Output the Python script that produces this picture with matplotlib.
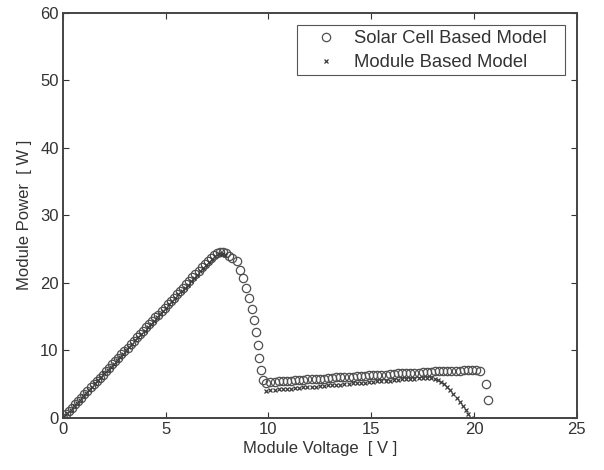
import matplotlib.pyplot as plt
from matplotlib.patches import Rectangle

plt.rcParams['font.family'] = ['Liberation Sans', 'DejaVu Sans']

# Solar cell based model (circles)
cell_v = [0.00, 0.15, 0.30, 0.45, 0.60, 0.75, 0.90, 1.05, 1.20, 1.35, 1.50, 1.65,
          1.80, 1.95, 2.10, 2.25, 2.40, 2.55, 2.70, 2.85, 3.00, 3.15, 3.30, 3.45,
          3.60, 3.75, 3.90, 4.05, 4.20, 4.35, 4.50, 4.65, 4.80, 4.95, 5.10, 5.25,
          5.40, 5.55, 5.70, 5.85, 6.00, 6.15, 6.30, 6.45, 6.60, 6.75, 6.90, 7.05,
          7.20, 7.35, 7.50, 7.65, 7.80, 7.95, 8.10, 8.25,
          8.45, 8.60, 8.77, 8.93, 9.07, 9.18, 9.29, 9.39, 9.47, 9.54, 9.62, 9.72,
          9.90, 10.1, 10.3, 10.5, 10.7, 10.9, 11.1, 11.3, 11.5, 11.7, 11.9, 12.1,
          12.3, 12.5, 12.7, 12.9, 13.1, 13.3, 13.5, 13.7, 13.9, 14.1, 14.3, 14.5,
          14.7, 14.9, 15.1, 15.3, 15.5, 15.7, 15.9, 16.1, 16.3, 16.5, 16.7, 16.9,
          17.1, 17.3, 17.5, 17.7, 17.9, 18.1, 18.3, 18.5, 18.7, 18.9, 19.1, 19.3,
          19.5, 19.7, 19.9, 20.1, 20.3, 20.56, 20.70]
cell_p = [0.0, 0.5, 1.0, 1.5, 2.0, 2.5, 3.0, 3.5, 4.0, 4.5, 5.0, 5.4,
          5.9, 6.4, 6.9, 7.4, 7.9, 8.4, 8.9, 9.4, 9.9, 10.4, 10.9, 11.4,
          11.9, 12.4, 12.9, 13.4, 13.9, 14.4, 14.9, 15.3, 15.8, 16.3, 16.8, 17.3,
          17.8, 18.3, 18.8, 19.3, 19.8, 20.3, 20.8, 21.3, 21.8, 22.3, 22.8, 23.2,
          23.7, 24.1, 24.4, 24.6, 24.6, 24.4, 24.0, 23.6,
          23.2, 21.9, 20.7, 19.2, 17.7, 16.1, 14.5, 12.7, 10.8, 8.9, 7.1, 5.6,
          5.2, 5.3, 5.3, 5.4, 5.4, 5.5, 5.5, 5.6, 5.6, 5.6, 5.7, 5.7,
          5.8, 5.8, 5.8, 5.9, 5.9, 6.0, 6.0, 6.0, 6.1, 6.1, 6.2, 6.2,
          6.2, 6.3, 6.3, 6.4, 6.4, 6.4, 6.5, 6.5, 6.6, 6.6, 6.6, 6.7,
          6.7, 6.7, 6.8, 6.8, 6.8, 6.9, 6.9, 6.9, 7.0, 7.0, 7.0, 7.0,
          7.1, 7.1, 7.1, 7.1, 7.0, 5.0, 2.7]

# Module based model (crosses)
mod_v = [0.075, 0.225, 0.375, 0.525, 0.675, 0.825, 0.975, 1.125, 1.275, 1.425,
         1.575, 1.725, 1.875, 2.025, 2.175, 2.325, 2.475, 2.625, 2.775, 2.925,
         3.075, 3.225, 3.375, 3.525, 3.675, 3.825, 3.975, 4.125, 4.275, 4.425,
         4.575, 4.725, 4.875, 5.025, 5.175, 5.325, 5.475, 5.625, 5.775, 5.925,
         6.075, 6.225, 6.375, 6.525, 6.675, 6.825, 6.975, 7.125, 7.275, 7.425,
         7.575, 7.725, 7.875,
         9.9, 10.1, 10.3, 10.5, 10.7, 10.9, 11.1, 11.3, 11.5, 11.7, 11.9, 12.1,
         12.3, 12.5, 12.7, 12.9, 13.1, 13.3, 13.5, 13.7, 13.9, 14.1, 14.3, 14.5,
         14.7, 14.9, 15.1, 15.3, 15.5, 15.7, 15.9, 16.1, 16.3, 16.5, 16.7, 16.9,
         17.1, 17.3, 17.5, 17.7, 17.9, 18.1, 18.25, 18.4, 18.55, 18.7, 18.85,
         19.0, 19.15, 19.3, 19.45, 19.6, 19.72, 19.85]
mod_p = [0.2, 0.7, 1.2, 1.7, 2.2, 2.7, 3.2, 3.7, 4.1, 4.6,
         5.1, 5.6, 6.1, 6.6, 7.1, 7.6, 8.0, 8.5, 9.0, 9.5,
         10.0, 10.5, 11.0, 11.5, 11.9, 12.4, 12.9, 13.4, 13.9, 14.4,
         14.9, 15.4, 15.8, 16.3, 16.8, 17.3, 17.8, 18.3, 18.8, 19.3,
         19.7, 20.2, 20.7, 21.2, 21.7, 22.2, 22.6, 23.1, 23.5, 23.9,
         24.2, 24.3, 24.1,
         4.0, 4.1, 4.1, 4.2, 4.2, 4.3, 4.3, 4.4, 4.4, 4.5, 4.5, 4.6,
         4.6, 4.7, 4.7, 4.8, 4.8, 4.9, 4.9, 5.0, 5.0, 5.1, 5.1, 5.2,
         5.2, 5.3, 5.3, 5.4, 5.4, 5.5, 5.5, 5.6, 5.6, 5.7, 5.7, 5.8,
         5.8, 5.9, 5.9, 5.9, 5.9, 5.8, 5.6, 5.3, 5.0, 4.6, 4.1,
         3.6, 3.0, 2.4, 1.8, 1.1, 0.5, 0.0]

W, H = 604, 470
fig = plt.figure(figsize=(W / 100, H / 100), dpi=100)
ax = fig.add_axes([0.104, 0.111, 0.851, 0.862])

ink = '#333333'
ax.plot(cell_v, cell_p, linestyle='none', marker='o', markersize=6,
        markerfacecolor='none', markeredgecolor='#505050', markeredgewidth=0.9,
        label='Solar Cell Based Model')
ax.plot(mod_v, mod_p, linestyle='none', marker='x', markersize=3.5,
        color='#3a3a3a', markeredgewidth=0.9, label='Module Based Model')

ax.set_xlim(0, 25)
ax.set_ylim(0, 60)
ax.set_xticks([0, 5, 10, 15, 20, 25])
ax.set_yticks([0, 10, 20, 30, 40, 50, 60])
ax.tick_params(direction='in', length=4, width=0.8, colors=ink, labelsize=12,
               top=True, right=True, pad=3)
for s in ax.spines.values():
    s.set_color('#444444')
    s.set_linewidth(1.4)

ax.set_xlabel('Module Voltage  [ V ]', fontsize=12, color=ink, labelpad=3)
ax.set_ylabel('Module Power  [ W ]', fontsize=12, color=ink, labelpad=6)

# legend entries without frame, box drawn separately (MATLAB style padding)
leg = ax.legend(loc='upper left', fontsize=13.3, frameon=False,
                borderpad=0, handlelength=2.0, handletextpad=0.5,
                labelspacing=0.4, borderaxespad=0,
                bbox_to_anchor=(308 / W, 1 - 30 / H),
                bbox_transform=fig.transFigure)
leg.set_zorder(6)
for t in leg.get_texts():
    t.set_color(ink)
box = Rectangle((297 / W, 1 - 75 / H), 268 / W, 50 / H,
                transform=fig.transFigure, facecolor='white',
                edgecolor='#555555', linewidth=0.8, zorder=5, clip_on=False)
ax.add_patch(box)

fig.savefig('out.png', dpi=100)
